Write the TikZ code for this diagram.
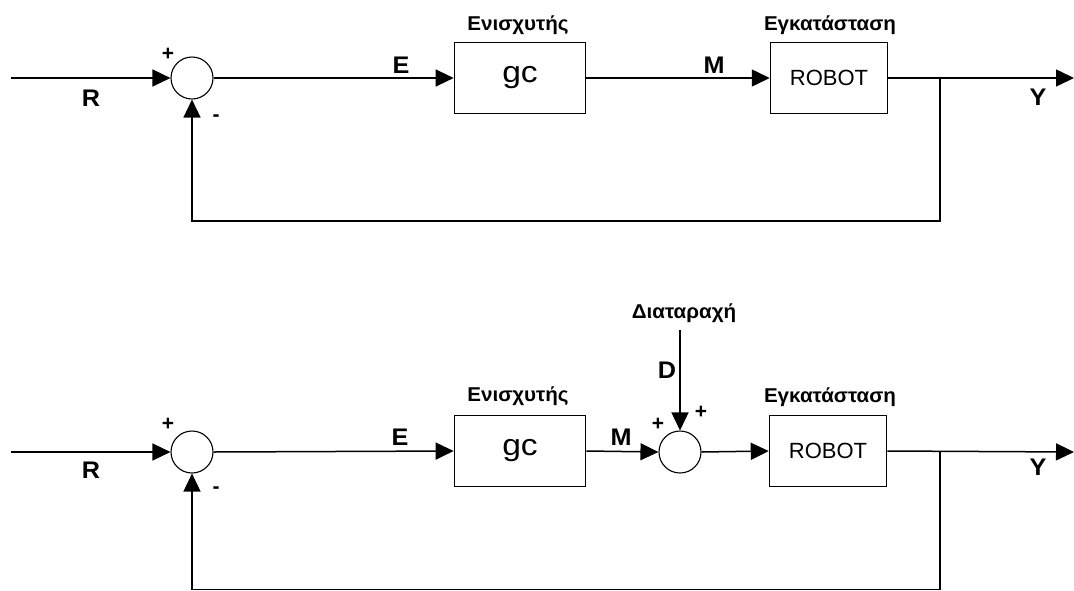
\documentclass[tikz,border=0pt]{standalone}
\usepackage{fontspec}
\setmainfont{Liberation Sans}
\usetikzlibrary{arrows.meta}
\tikzset{sig/.style={line width=1.5pt, -{Triangle[length=18pt, width=17pt]}}}
\tikzset{blk/.style={draw, line width=1.5pt, minimum width=117pt, minimum height=71pt, inner sep=0pt}}
\tikzset{sumpt/.style={draw, circle, line width=1.1pt, minimum size=42pt, inner sep=0pt}}
\tikzset{lbl/.style={font=\fontsize{24}{26}\selectfont\bfseries, xscale=1.05, inner sep=0pt}}
\tikzset{sgn/.style={font=\fontsize{21}{23}\selectfont\bfseries, inner sep=0pt}}
\tikzset{blkname/.style={font=\fontsize{20}{22}\selectfont\bfseries, xscale=1.03, inner sep=0pt}}

\begin{document}
\begin{tikzpicture}[x=1pt, y=-1pt]
\useasboundingbox (0,0) rectangle (1074,590);
% closed loop
\coordinate (in1) at (11,78);
\node[sumpt] (sum1) at (192,78) {};
\node[blk, font=\fontsize{30}{31}\selectfont, xscale=1.12] (gc1) at (520,78) {gc};
\node[blk, font=\fontsize{22}{24}\selectfont] (rob1) at (829,78) {ROBOT};
\coordinate (br1) at (940,78);
\coordinate (out1) at (1074,78);
\coordinate (fb1) at (940,221);
\draw[sig] (in1) -- (sum1.west);
\draw[sig] (sum1.east) -- (gc1.west);
\draw[sig] (gc1.east) -- (rob1.west);
\draw[sig] (rob1.east) -- (out1);
\draw[sig] (br1) -- (fb1) -| (sum1.south);
\node[sgn] (p1) at (168,54) {+}; \node[sgn] (m1) at (216,118) {-};
\node[lbl] (r1) at (91,98) {R}; \node[lbl] (e1) at (401,65) {E};
\node[lbl] (mm1) at (714,65) {M}; \node[lbl] (y1) at (1038,97) {Y};
\node[blkname] (amp1) at (518,25) {Ενισχυτής};
\node[blkname] (pl1) at (830,25) {Εγκατάσταση};
% with disturbance
\coordinate (in2) at (11,452);
\node[sumpt] (sum2) at (192,452) {};
\node[blk, font=\fontsize{30}{31}\selectfont, xscale=1.12] (gc2) at (520,451) {gc};
\node[sumpt] (sum3) at (680,452) {};
\node[blk, font=\fontsize{22}{24}\selectfont] (rob2) at (828,451) {ROBOT};
\coordinate (br2) at (940,452);
\coordinate (out2) at (1074,452);
\coordinate (fb2) at (940,589.5);
\coordinate (dtop) at (680,330);
\draw[sig] (in2) -- (sum2.west);
\draw[sig] (sum2.east) -- (gc2.west);
\draw[sig] (gc2.east) -- (sum3.west);
\draw[sig] (sum3.east) -- (rob2.west);
\draw[sig] (rob2.east) -- (out2);
\draw[sig] (dtop) -- (sum3.north);
\draw[sig] (br2) -- (fb2) -| (sum2.south);
\node[sgn] (p2) at (168,424) {+}; \node[sgn] (m2) at (216,490) {-};
\node[sgn] (p3) at (658,424) {+}; \node[sgn] (p4) at (701,412) {+};
\node[lbl] (r2) at (91,470) {R}; \node[lbl] (e2) at (400,437) {E};
\node[lbl] (mm2) at (621,437) {M}; \node[lbl] (y2) at (1038,467) {Y};
\node[lbl] (d2) at (667,370) {D};
\node[blkname] (dist2) at (684,313) {Διαταραχή};
\node[blkname] (amp2) at (518,396) {Ενισχυτής};
\node[blkname] (pl2) at (830,397) {Εγκατάσταση};
\end{tikzpicture}
\end{document}
